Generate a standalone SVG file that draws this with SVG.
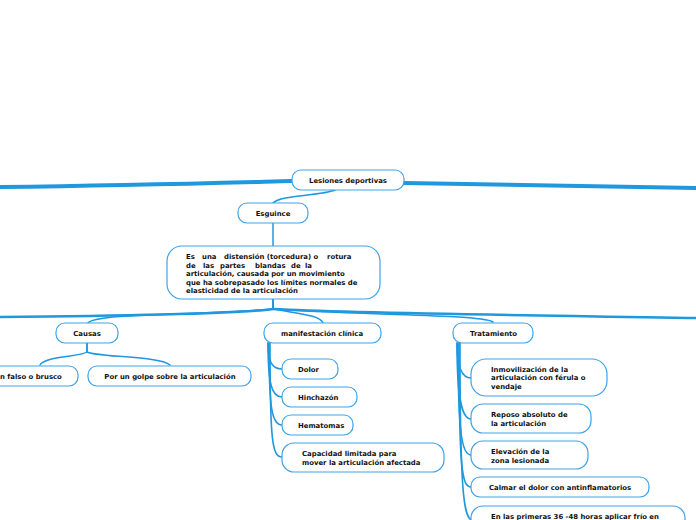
<svg xmlns="http://www.w3.org/2000/svg" width="696" height="520" viewBox="0 0 696 520">
<style>
.n{fill:#fff;stroke:#3fa3e6;stroke-width:1.2}
.t{font-family:"DejaVu Sans",Verdana,sans-serif;font-weight:bold;font-size:6.9px;fill:#111}
.c{fill:none;stroke:#1f98de;stroke-linecap:round}
</style>
<rect width="696" height="520" fill="#fff"/>
<g id="connectors">
<path class="c" stroke-width="4" d="M292,181 C250,182 150,185 0,187"/>
<path class="c" stroke-width="4" d="M404,183 C450,184 550,186 696,188"/>
<path class="c" stroke-width="1.5" d="M335,190 C320,196 280,195 273,203"/>
<path class="c" stroke-width="1.5" d="M273,223 L273,246"/>
<path class="c" stroke-width="2" d="M273,299 L273,309"/>
<path class="c" stroke-width="2.5" d="M273,309 C240,314 100,316 0,317"/>
<path class="c" stroke-width="1.5" d="M273,309 C200,315 95,313 88,323"/>
<path class="c" stroke-width="1.5" d="M273,309 C300,314 320,315 323,323"/>
<path class="c" stroke-width="1.5" d="M273,309 C350,315 480,314 493,322"/>
<path class="c" stroke-width="2.5" d="M273,309 C350,313 500,315 696,318"/>
<path class="c" stroke-width="1.5" d="M87,343 L87,352 C80,357 45,356 40,365"/>
<path class="c" stroke-width="1.5" d="M87,343 L87,352 C95,357 160,356 170,365"/>
<path class="c" stroke-width="1.6" d="M268,343 C268,362 272,369 282,369"/>
<path class="c" stroke-width="1.6" d="M268,343 C268,385 272,397 282,397"/>
<path class="c" stroke-width="1.6" d="M269,343 C269,410 272,425 282,425"/>
<path class="c" stroke-width="1.6" d="M270,343 C270,440 272,457 282,457"/>
<path class="c" stroke-width="1.6" d="M457,343 C457,368 462,378 471,378"/>
<path class="c" stroke-width="1.6" d="M457,343 C457,400 462,419 471,419"/>
<path class="c" stroke-width="1.6" d="M458,343 C458,435 462,455 471,455"/>
<path class="c" stroke-width="1.6" d="M459,343 C459,470 462,487 471,487"/>
<path class="c" stroke-width="1.6" d="M460,343 C460,495 464,515 471,520"/>
</g>
<g id="lesiones"><rect class="n" x="292" y="170" width="112" height="20" rx="9"/><text class="t" x="348" y="182.5" text-anchor="middle">Lesiones deportivas</text></g>
<g id="esguince"><rect class="n" x="238" y="203" width="70" height="20" rx="9"/><text class="t" x="273" y="215.5" text-anchor="middle">Esguince</text></g>
<g id="definicion"><rect class="n" x="167" y="246" width="213" height="53" rx="15"/>
<text class="t"><tspan x="186" y="259">Es</tspan><tspan x="202" y="259">una</tspan><tspan x="224" y="259">distensión (torcedura) o</tspan><tspan x="327" y="259">rotura</tspan></text>
<text class="t"><tspan x="186" y="267.5">de</tspan><tspan x="203" y="267.5">las</tspan><tspan x="220" y="267.5">partes</tspan><tspan x="255" y="267.5">blandas</tspan><tspan x="291" y="267.5">de</tspan><tspan x="305" y="267.5">la</tspan></text>
<text class="t" x="186" y="276">articulación, causada por un movimiento</text>
<text class="t" x="186" y="284.5">que ha sobrepasado los límites normales de</text>
<text class="t" x="186" y="293">elasticidad de la articulación</text></g>
<g id="causas"><rect class="n" x="56" y="323" width="62" height="20" rx="9"/><text class="t" x="87" y="335.5" text-anchor="middle">Causas</text></g>
<g id="falso"><rect class="n" x="-60" y="366" width="138" height="20" rx="9"/><text class="t" x="0" y="378.5">n falso o brusco</text></g>
<g id="golpe"><rect class="n" x="88" y="366" width="163" height="20" rx="9"/><text class="t" x="170" y="378.5" text-anchor="middle">Por un golpe sobre la articulación</text></g>
<g id="manifestacion"><rect class="n" x="264" y="323" width="117" height="20" rx="9"/><text class="t" x="281" y="335.5">manifestación clínica</text></g>
<g id="dolor"><rect class="n" x="282" y="359" width="56" height="20" rx="9"/><text class="t" x="298" y="371.5">Dolor</text></g>
<g id="hinchazon"><rect class="n" x="282" y="387" width="75" height="20" rx="9"/><text class="t" x="298" y="399.5">Hinchazón</text></g>
<g id="hematomas"><rect class="n" x="282" y="415" width="71" height="20" rx="9"/><text class="t" x="298" y="427.5">Hematomas</text></g>
<g id="capacidad"><rect class="n" x="282" y="443" width="162" height="29" rx="12"/><text class="t"><tspan x="302" y="456">Capacidad limitada para</tspan><tspan x="302" y="464.5">mover la articulación afectada</tspan></text></g>
<g id="tratamiento"><rect class="n" x="453" y="323" width="80" height="20" rx="9"/><text class="t" x="470" y="335.5">Tratamiento</text></g>
<g id="inmovilizacion"><rect class="n" x="471" y="359" width="136" height="37" rx="15"/><text class="t"><tspan x="491" y="371.5">Inmovilización de la</tspan><tspan x="491" y="380">articulación con férula o</tspan><tspan x="491" y="388.5">vendaje</tspan></text></g>
<g id="reposo"><rect class="n" x="471" y="404" width="120" height="29" rx="12"/><text class="t"><tspan x="491" y="417">Reposo absoluto de</tspan><tspan x="491" y="425.5">la articulación</tspan></text></g>
<g id="elevacion"><rect class="n" x="471" y="441" width="117" height="28" rx="12"/><text class="t"><tspan x="491" y="454">Elevación de la</tspan><tspan x="491" y="462.5">zona lesionada</tspan></text></g>
<g id="calmar"><rect class="n" x="471" y="477" width="178" height="20" rx="9"/><text class="t" x="489" y="489.5">Calmar el dolor con antinflamatorios</text></g>
<g id="frio"><rect class="n" x="471" y="506" width="214" height="30" rx="12"/><text class="t" x="491" y="518.5">En las primeras 36 -48 horas aplicar frío en</text></g>
</svg>
